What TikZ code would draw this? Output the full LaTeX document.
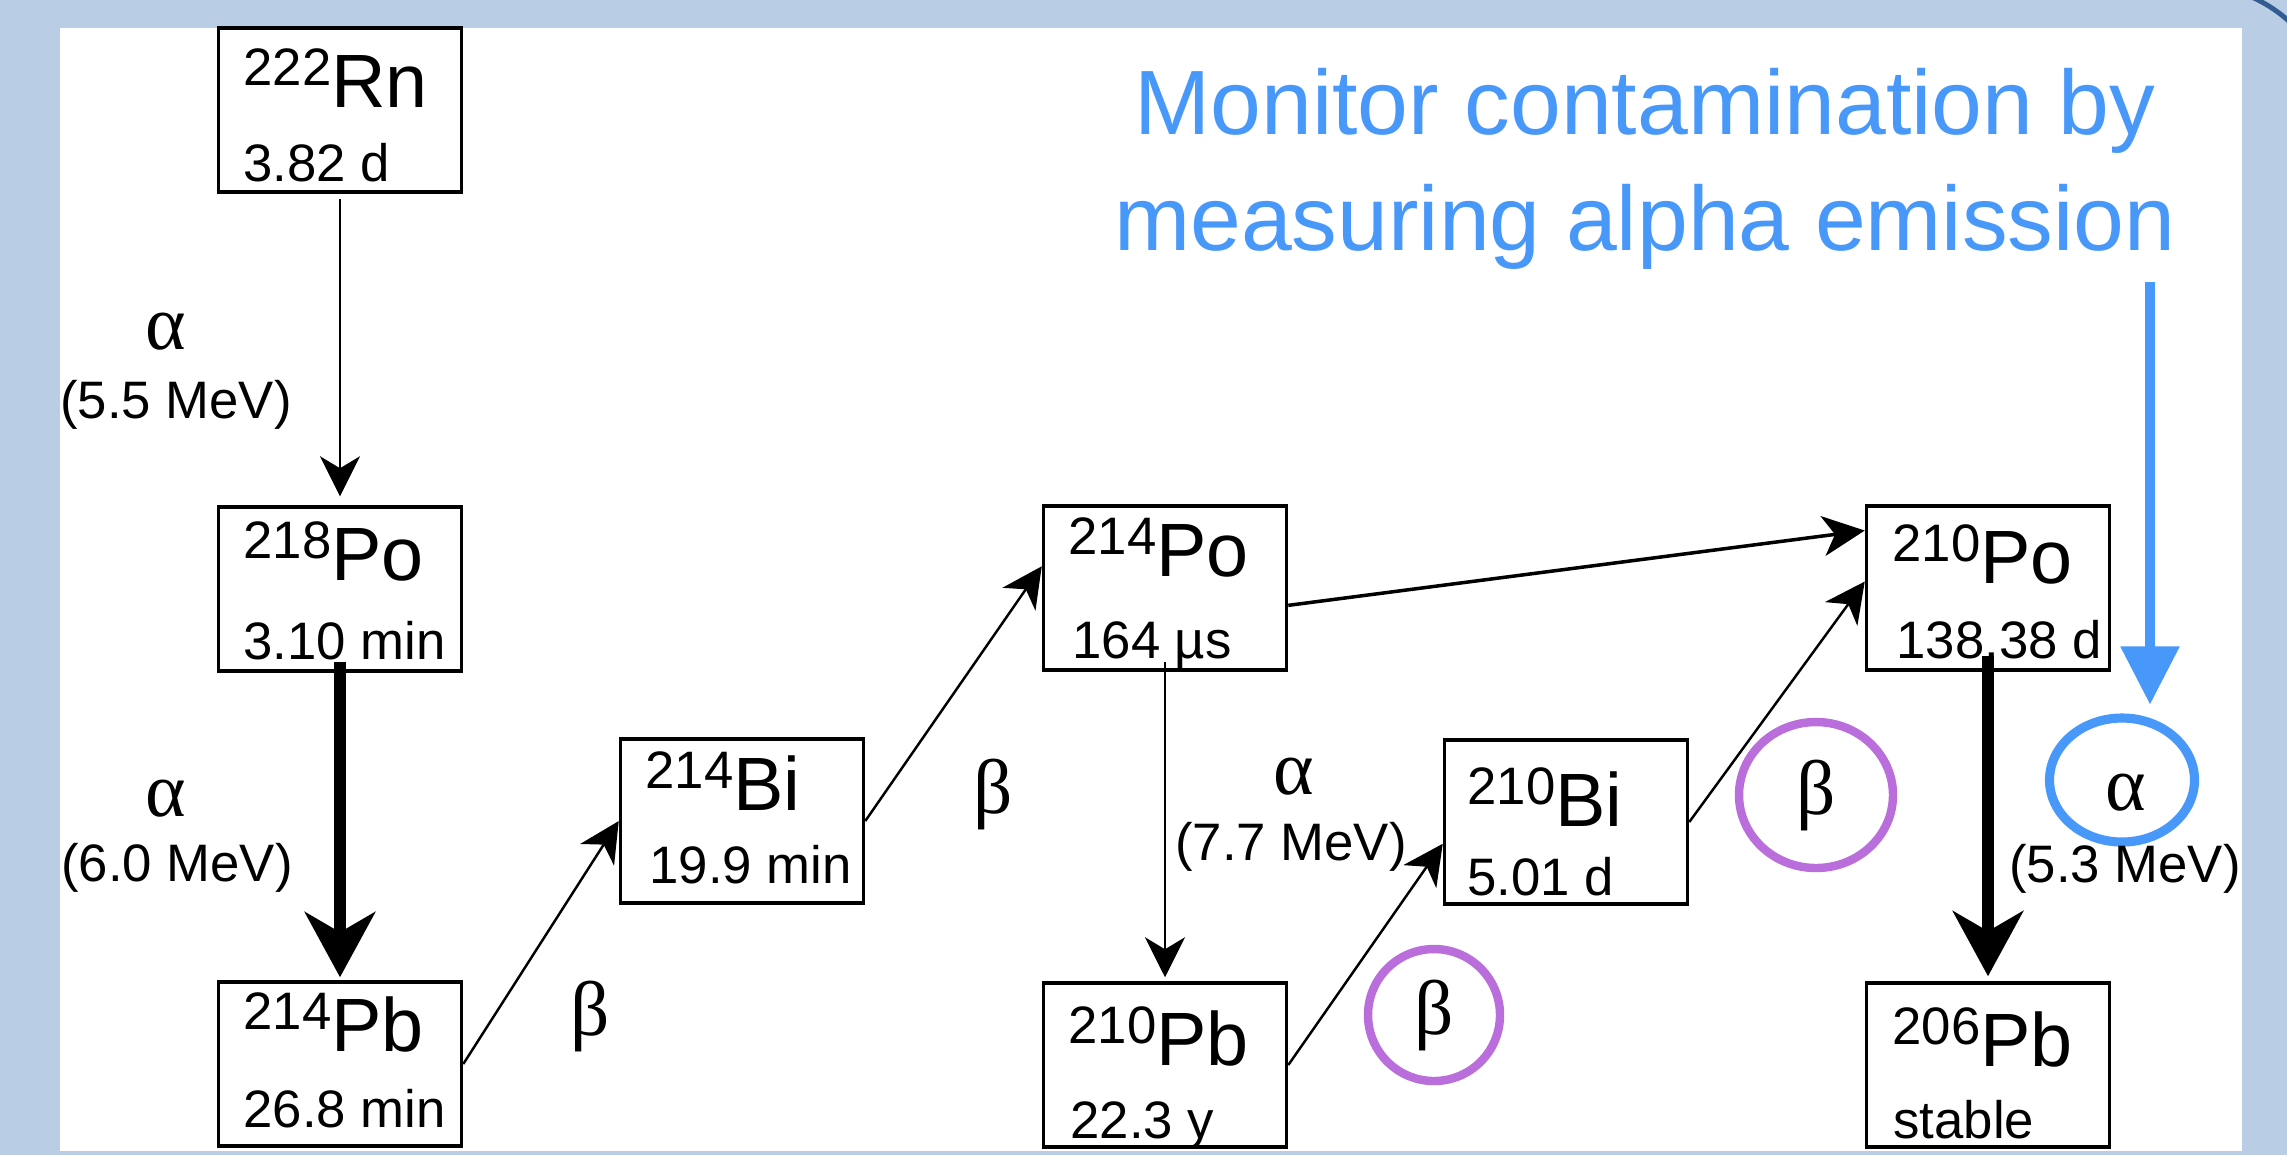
\documentclass[tikz,border=0pt]{standalone}
\usepackage{fontspec}
\setmainfont{Liberation Sans}
\newfontfamily\grego{Liberation Serif}
\usetikzlibrary{arrows.meta,calc,shapes.geometric}
\definecolor{fundo}{RGB}{185,205,228}
\definecolor{azulEsc}{RGB}{50,92,145}
\definecolor{azul}{RGB}{72,152,250}
\definecolor{roxo}{RGB}{185,110,220}
\newcommand{\massa}[1]{\raisebox{6.2pt}{\fontsize{15}{15}\selectfont #1}}

\begin{document}
\begin{tikzpicture}[x=0.1mm, y=-0.1mm]
\tikzset{
    nuclideo/.style={rectangle, draw=black, line width=1pt, inner sep=0pt,
                     minimum width=24.3mm, minimum height=16.4mm},
    elem/.style={anchor=base west, inner sep=0pt, font=\fontsize{21.5}{21.5}\selectfont},
    meia/.style={anchor=base west, inner sep=0pt, font=\fontsize{15}{15}\selectfont},
    letraGrega/.style={inner sep=0pt, font=\grego\fontsize{22}{22}\selectfont},
    energia/.style={inner sep=0pt, font=\fontsize{15}{15}\selectfont},
    setaFina/.style={-{Stealth[length=4mm, width=4mm, inset=1.2mm]}, line width=0.7pt},
    setaMedia/.style={-{Stealth[length=4.2mm, width=4mm, inset=1.2mm]}, line width=1pt},
    setaGrossa/.style={-{Stealth[length=6.5mm, width=7mm, inset=2mm]}, line width=3.4pt},
    setaAzul/.style={-{Triangle[length=5.8mm, width=5.7mm]}, line width=2.6pt, draw=azul},
    circulo/.style={letraGrega, ellipse, draw=roxo, line width=2.4pt},
    elipseAzul/.style={ellipse, draw=azul, line width=2.6pt, inner sep=0pt,
                       minimum width=14.5mm, minimum height=12.4mm},
    aviso/.style={anchor=north, align=center, inner sep=0pt, text=azul,
                  font=\fontsize{26}{33}\selectfont}
}

% Fundo e moldura
\useasboundingbox (0,0) rectangle (2287,1155);
\fill[fundo] (0,0) rectangle (2287,1155);
\fill[white] (60,28) rectangle (2242,1151);
\begin{scope}
  \clip (0,0) rectangle (2287,1155);
  \draw[azulEsc, line width=1.4pt] (2195,125) ++(-70:140) arc[start angle=-70, end angle=-40, radius=140];
\end{scope}

% Nuclideos
\node[nuclideo] (rn222) at (340,110)  {};
\node[nuclideo] (po218) at (340,589)  {};
\node[nuclideo] (pb214) at (340,1064) {};
\node[nuclideo] (bi214) at (742,821)  {};
\node[nuclideo] (po214) at (1165,588) {};
\node[nuclideo] (pb210) at (1165,1065) {};
\node[nuclideo] (bi210) at (1566,822) {};
\node[nuclideo] (po210) at (1988,588) {};
\node[nuclideo] (pb206) at (1988,1065) {};

\node[elem] (rn222e) at ($(rn222.north west)+(26,81)$)  {\massa{222}Rn};
\node[meia] (rn222t) at ($(rn222.south west)+(26,-12)$) {3.82 d};
\node[elem] (po218e) at ($(po218.north west)+(26,75)$)  {\massa{218}Po};
\node[meia] (po218t) at ($(po218.south west)+(26,-13)$) {3.10 min};
\node[elem] (pb214e) at ($(pb214.north west)+(26,71)$)  {\massa{214}Pb};
\node[meia] (pb214t) at ($(pb214.south west)+(26,-20)$) {26.8 min};
\node[elem] (bi214e) at ($(bi214.north west)+(26,73)$)  {\massa{214}Bi};
\node[meia] (bi214t) at ($(bi214.south west)+(30,-21)$) {19.9 min};
\node[elem] (po214e) at ($(po214.north west)+(26,72)$)  {\massa{214}Po};
\node[meia] (po214t) at ($(po214.south west)+(30,-13)$) {164 µs};
\node[elem] (pb210e) at ($(pb210.north west)+(26,84)$)  {\massa{210}Pb};
\node[meia] (pb210t) at ($(pb210.south west)+(28,-10)$) {22.3 y};
\node[elem] (bi210e) at ($(bi210.north west)+(24,88)$)  {\massa{210}Bi};
\node[meia] (bi210t) at ($(bi210.south west)+(24,-10)$) {5.01 d};
\node[elem] (po210e) at ($(po210.north west)+(27,79)$)  {\massa{210}Po};
\node[meia] (po210t) at ($(po210.south west)+(31,-13)$) {138.38 d};
\node[elem] (pb206e) at ($(pb206.north west)+(27,85)$)  {\massa{206}Pb};
\node[meia] (pb206t) at ($(pb206.south west)+(28,-10)$) {stable};

% Decaimentos
\draw[setaFina, shorten <=0.5mm, shorten >=0.9mm] (rn222) -- (po218);
\draw[setaGrossa, shorten <=-1.1mm, shorten >=0.3mm] (po218.south) -- (pb214.north);
\draw[setaFina] (pb214.east) -- (bi214.west);
\draw[setaFina] (bi214.east) -- (po214.170);
\draw[setaMedia] (po214.352) -- (po210.155);
\draw[setaFina, shorten <=-1mm, shorten >=0.4mm] (po214.south) -- (pb210.north);
\draw[setaFina] (pb210.east) -- (bi210.190);
\draw[setaFina] (bi210.east) -- (po210.177);
\draw[setaGrossa, shorten <=-1.6mm, shorten >=0.5mm] (po210.south) -- (pb206.north);

% Particulas emitidas
\node[letraGrega] (aRn)    at (166,332)  {α};
\node[energia]    (eRn)    at (176,405)  {(5.5 MeV)};
\node[letraGrega] (aPo218) at (166,799)  {α};
\node[energia]    (ePo218) at (177,868)  {(6.0 MeV)};
\node[letraGrega] (bPb214) at (590,1016) {β};
\node[letraGrega] (bBi214) at (993,794)  {β};
\node[letraGrega] (aPo214) at (1294,777) {α};
\node[energia]    (ePo214) at (1291,847) {(7.7 MeV)};
\node[circulo, minimum width=13.2mm, minimum height=13.2mm] (bPb210) at (1434,1015) {β};
\node[circulo, minimum width=15.4mm, minimum height=14.6mm] (bBi210) at (1816,795) {β};
\node[elipseAzul] (cPo210) at (2122,780) {};
\node[letraGrega] (aPo210) at (2126,793) {α};
\node[energia]    (ePo210) at (2125,869) {(5.3 MeV)};

% Nota
\node[aviso] (monitor) at (1645,68) {Monitor contamination by\\measuring alpha emission};
\coordinate (topoSeta) at (2150,282);
\draw[setaAzul, shorten >=0.9mm] (topoSeta) -- (topoSeta |- cPo210.north);
\end{tikzpicture}
\end{document}
